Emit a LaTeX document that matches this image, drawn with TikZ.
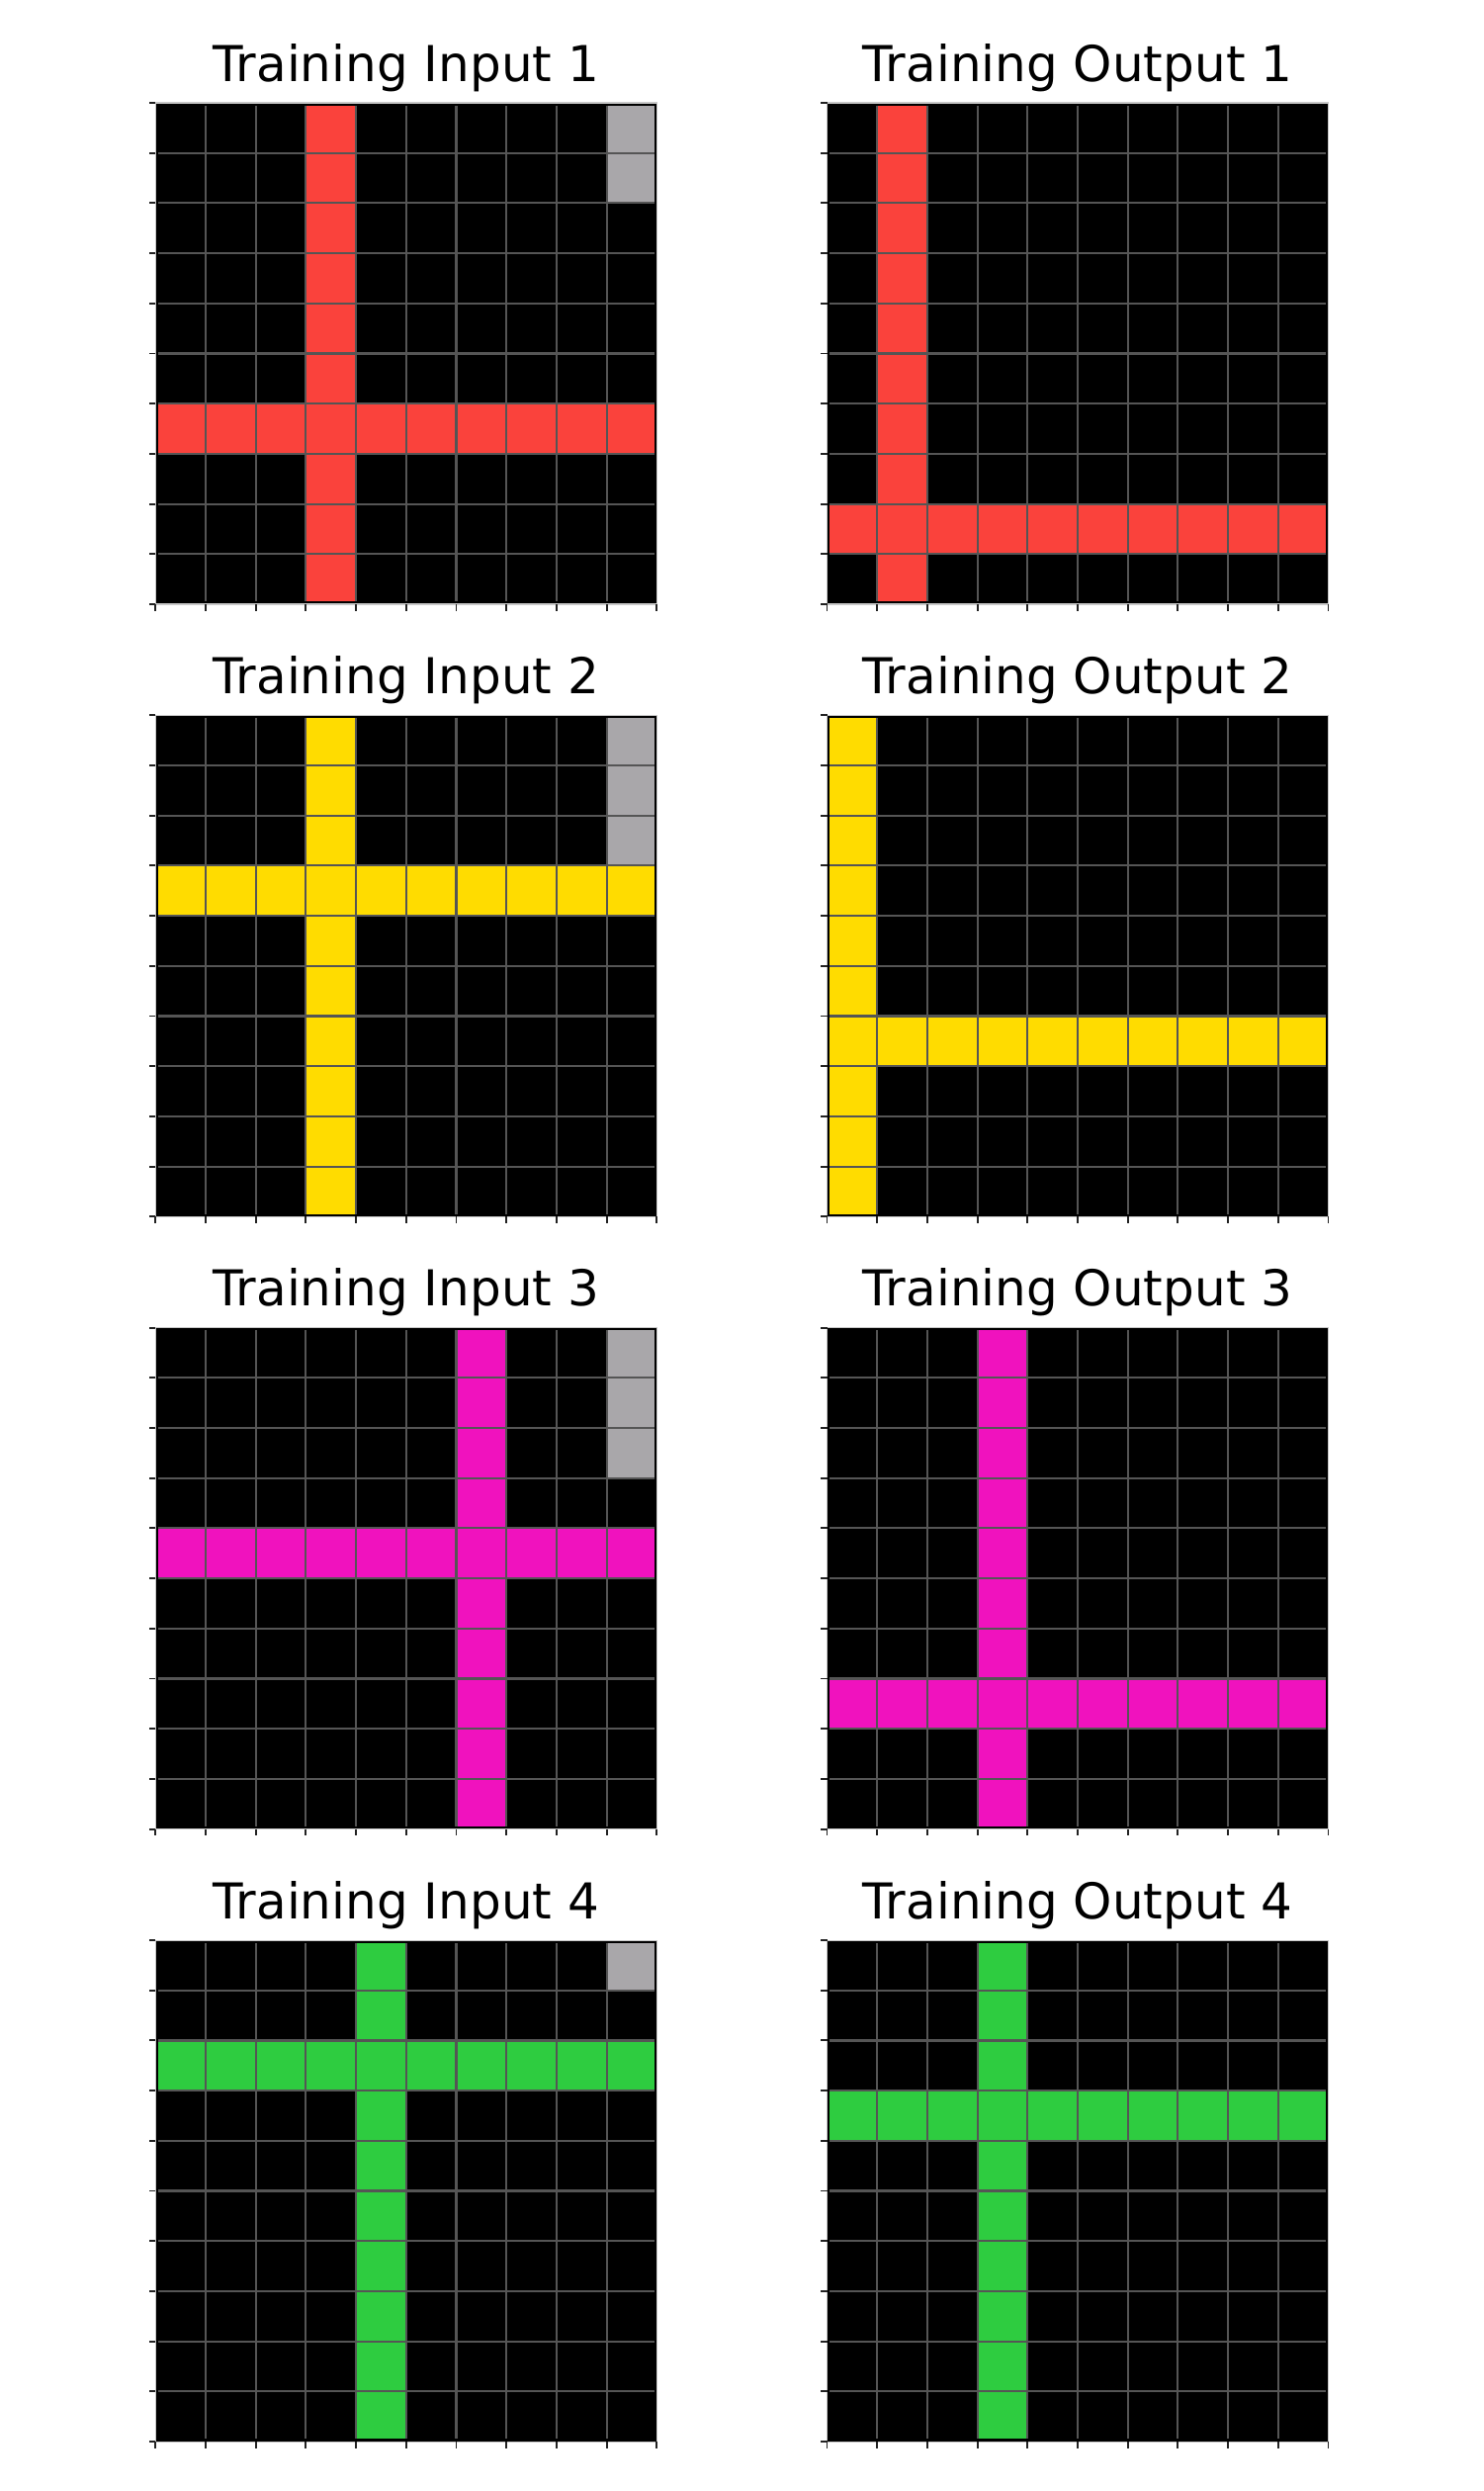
\documentclass[tikz,border=0pt]{standalone}
\usepackage{fontspec}
\setmainfont{DejaVu Sans}
\definecolor{arcred}{HTML}{FA423C}
\definecolor{arcyellow}{HTML}{FFDC00}
\definecolor{arcmagenta}{HTML}{F012BE}
\definecolor{arcgreen}{HTML}{2ECC40}
\definecolor{arcgray}{HTML}{A9A7AA}
\definecolor{gridgray}{HTML}{555555}
\definecolor{spinegray}{HTML}{C8C8C8}
\definecolor{tickgray}{HTML}{222222}
\newcommand{\arcpanel}[6]{%
  % #1 x0, #2 y0, #3 column of vertical bar, #4 row of horizontal bar, #5 colour, #6 number of gray cells
  \fill[black] (#1,#2) rectangle ++(507,507);
  \fill[#5] ({#1+#3*50.7},#2) rectangle ++(50.7,507);
  \fill[#5] (#1,{#2+#4*50.7}) rectangle ++(507,50.7);
  \ifnum#6>0 \fill[arcgray] ({#1+9*50.7},#2) rectangle ++(50.7,{#6*50.7});\fi
  \foreach \k in {1,...,9} {
    \draw[gridline] ({#1+\k*50.7},#2) -- ++(0,507);
    \draw[gridline] (#1,{#2+\k*50.7}) -- ++(507,0);
  }
  \draw[innerframe] ({#1+1.4},{#2+1.4}) rectangle ({#1+505.6},{#2+505.6});
  \draw[spine] (#1,#2) rectangle ++(507,507);
  \foreach \k in {0,...,10} {
    \draw[tickmark] ({#1+\k*50.7},{#2+507}) -- ++(0,6.5);
    \draw[tickmark] (#1,{#2+\k*50.7}) -- ++(-6.5,0);
  }
}
\begin{document}
\begin{tikzpicture}[x=0.288pt,y=-0.288pt,
  paneltitle/.style={font=\fontsize{14.4pt}{17pt}\selectfont, anchor=base, inner sep=0pt, text=black},
  gridline/.style={draw=gridgray, line width=0.62pt},
  innerframe/.style={draw=black, line width=0.8pt},
  spine/.style={draw=spinegray, line width=0.3pt},
  tickmark/.style={draw=tickgray, line width=0.55pt}]
\useasboundingbox[fill=white] (0,0) rectangle (1500,2519);
% row 1
\arcpanel{157.3}{104}{3}{6}{arcred}{2}
\arcpanel{836.5}{104}{1}{8}{arcred}{0}
\node[paneltitle] (tin1) at (410.8,82.3) {Training Input 1};
\node[paneltitle] (tout1) at (1090,82.3) {Training Output 1};
% row 2
\arcpanel{157.3}{723.3}{3}{3}{arcyellow}{3}
\arcpanel{836.5}{723.3}{0}{6}{arcyellow}{0}
\node[paneltitle] (tin2) at (410.8,701.6) {Training Input 2};
\node[paneltitle] (tout2) at (1090,701.6) {Training Output 2};
% row 3
\arcpanel{157.3}{1342.6}{6}{4}{arcmagenta}{3}
\arcpanel{836.5}{1342.6}{3}{7}{arcmagenta}{0}
\node[paneltitle] (tin3) at (410.8,1320.9) {Training Input 3};
\node[paneltitle] (tout3) at (1090,1320.9) {Training Output 3};
% row 4
\arcpanel{157.3}{1962}{4}{2}{arcgreen}{1}
\arcpanel{836.5}{1962}{3}{3}{arcgreen}{0}
\node[paneltitle] (tin4) at (410.8,1940.3) {Training Input 4};
\node[paneltitle] (tout4) at (1090,1940.3) {Training Output 4};
\end{tikzpicture}
\end{document}
